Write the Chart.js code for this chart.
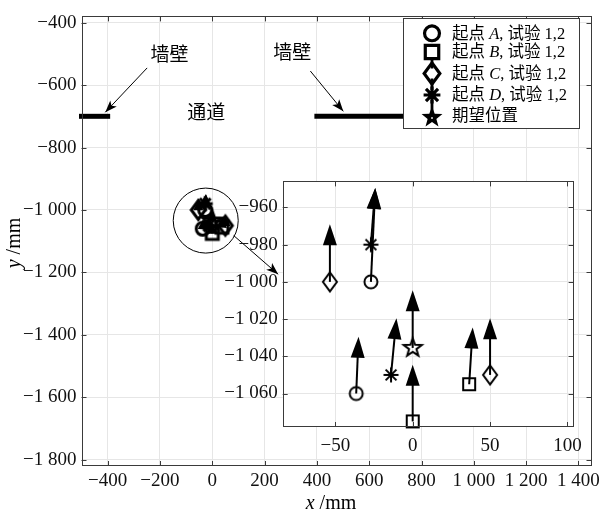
<!DOCTYPE html>
<html>
<head>
<meta charset="utf-8">
<script src="https://cdn.jsdelivr.net/npm/chart.js@4.4.1/dist/chart.umd.min.js"></script>
<style>
  body { margin: 0; background: #fff; }
  #wrap { position: relative; width: 608px; height: 517px; }
  #mainChart { position: absolute; left: 0; top: 0; }
  #insetChart { position: absolute; left: 200px; top: 165px; }
</style>
</head>
<body>
<div id="wrap">
  <canvas id="mainChart" width="608" height="517"></canvas>
  <canvas id="insetChart" width="390" height="300"></canvas>
</div>
<script>
// start points and arrow tips (mm), trials 1 and 2
const startAX = [-27, -36.5];   const startAY = [-1000, -1060];
const tipAX   = [-24.2, -35];   const tipAY   = [-949.5, -1029.5];
const startBX = [36.5, 0];      const startBY = [-1055, -1075];
const tipBX   = [38.8, 0];      const tipBY   = [-1024.5, -1044.5];
const startCX = [-53.5, 50];    const startCY = [-1000, -1050];
const tipCX   = [-53.5, 50];    const tipCY   = [-969, -1019.5];
const startDX = [-27, -14];     const startDY = [-980, -1050];
const tipDX   = [-24.2, -10.5]; const tipDY   = [-949.5, -1019.5];
const goalX   = [0];            const goalY   = [-1035.5];
const goalTipX = [0];           const goalTipY = [-1004.5];

// walls
const wallLeftX = [-500, -400];
const wallRightX = [400, 1100];
const wallY = [-700, -700];

// ticks
const mainXTicks = [-400, -200, 0, 200, 400, 600, 800, 1000, 1200, 1400];
const mainYTicks = [-1800, -1600, -1400, -1200, -1000, -800, -600, -400];
const insetXTicks = [-50, 0, 50, 100];
const insetYTicks = [-1060, -1040, -1020, -1000, -980, -960];

const legendLetters = ['A', 'B', 'C', 'D'];
const markerTypes = ['circle', 'square', 'diamond', 'asterisk', 'star'];

const SERIF = "'Liberation Serif', 'Noto Sans CJK SC', serif";
const CJK = "'Liberation Serif', 'Noto Sans CJK SC', sans-serif";

function fmt(v) {
  const s = Math.abs(v).toString();
  const g = s.length > 3 ? s.slice(0, -3) + ' ' + s.slice(-3) : s;
  return (v < 0 ? '\u2212' : '') + g;
}

function drawMarker(ctx, type, cx, cy, lw, s) {
  ctx.save();
  ctx.lineWidth = lw;
  ctx.strokeStyle = '#000';
  ctx.fillStyle = '#000';
  ctx.beginPath();
  if (type === 'circle') {
    ctx.arc(cx, cy, 6.5 * s, 0, 2 * Math.PI);
    ctx.stroke();
  } else if (type === 'square') {
    ctx.rect(cx - 6 * s, cy - 6 * s, 12 * s, 12 * s);
    ctx.stroke();
  } else if (type === 'diamond') {
    ctx.moveTo(cx, cy - 9.5 * s);
    ctx.lineTo(cx + 7 * s, cy);
    ctx.lineTo(cx, cy + 9.5 * s);
    ctx.lineTo(cx - 7 * s, cy);
    ctx.closePath();
    ctx.stroke();
  } else if (type === 'asterisk') {
    const r = 7.5 * s, d = r * 0.72;
    ctx.moveTo(cx, cy - r); ctx.lineTo(cx, cy + r);
    ctx.moveTo(cx - r, cy); ctx.lineTo(cx + r, cy);
    ctx.moveTo(cx - d, cy - d); ctx.lineTo(cx + d, cy + d);
    ctx.moveTo(cx - d, cy + d); ctx.lineTo(cx + d, cy - d);
    ctx.stroke();
  } else if (type === 'star') {
    const ro = 9.5 * s, ri = 3.9 * s;
    for (let i = 0; i < 10; i++) {
      const r = i % 2 ? ri : ro;
      const a = -Math.PI / 2 + i * Math.PI / 5;
      const px = cx + r * Math.cos(a), py = cy + r * Math.sin(a);
      i ? ctx.lineTo(px, py) : ctx.moveTo(px, py);
    }
    ctx.closePath();
    ctx.stroke();
  }
  ctx.restore();
}

function markerImage(type, lw) {
  const c = document.createElement('canvas');
  c.width = 28; c.height = 28;
  drawMarker(c.getContext('2d'), type, 14, 14, lw, 1);
  return c;
}

function pts(xs, ys) { return xs.map((x, i) => ({ x: x, y: ys[i] })); }

const markerSets = [
  [startAX, startAY], [startBX, startBY], [startCX, startCY], [startDX, startDY], [goalX, goalY]
];
const arrowSets = [
  [startAX, startAY, tipAX, tipAY], [startBX, startBY, tipBX, tipBY],
  [startCX, startCY, tipCX, tipCY], [startDX, startDY, tipDX, tipDY],
  [goalX, goalY, goalTipX, goalTipY]
];

function markerDatasets(lw) {
  return markerSets.map((m, i) => ({
    type: 'scatter',
    data: pts(m[0], m[1]),
    pointStyle: markerImage(markerTypes[i], lw),
    pointRadius: 8,
    clip: false
  }));
}

function arrowHead(ctx, x1, y1, x2, y2, len, half, notch) {
  const a = Math.atan2(y2 - y1, x2 - x1);
  const c = Math.cos(a), s = Math.sin(a);
  const bx = x2 - len * c, by = y2 - len * s;
  ctx.beginPath();
  ctx.moveTo(x2, y2);
  ctx.lineTo(bx - half * s, by + half * c);
  ctx.lineTo(bx + notch * c, by + notch * s);
  ctx.lineTo(bx + half * s, by - half * c);
  ctx.closePath();
  ctx.fill();
}

const quiver = {
  id: 'quiver',
  afterDatasetsDraw(chart, args, opts) {
    const { ctx, scales: { x, y } } = chart;
    ctx.save();
    ctx.strokeStyle = '#000';
    ctx.fillStyle = '#000';
    ctx.lineWidth = opts.lw;
    arrowSets.forEach(set => {
      set[0].forEach((_, i) => {
        const x1 = x.getPixelForValue(set[0][i]), y1 = y.getPixelForValue(set[1][i]);
        const x2 = x.getPixelForValue(set[2][i]), y2 = y.getPixelForValue(set[3][i]);
        const a = Math.atan2(y2 - y1, x2 - x1);
        ctx.beginPath();
        ctx.moveTo(x1, y1);
        ctx.lineTo(x2 - opts.len * 0.8 * Math.cos(a), y2 - opts.len * 0.8 * Math.sin(a));
        ctx.stroke();
        arrowHead(ctx, x1, y1, x2, y2, opts.len, opts.half, 0);
      });
    });
    ctx.restore();
  }
};

const frame = {
  id: 'frame',
  beforeDraw(chart, args, opts) {
    if (!opts.fill) return;
    const a = chart.chartArea;
    chart.ctx.save();
    chart.ctx.fillStyle = '#fff';
    chart.ctx.fillRect(a.left, a.top, a.width, a.height);
    chart.ctx.restore();
  },
  afterDraw(chart, args, opts) {
    const { ctx, chartArea: a, scales: { x, y } } = chart;
    ctx.save();
    ctx.strokeStyle = '#3a3a3a';
    ctx.lineWidth = 1;
    ctx.strokeRect(Math.round(a.left) + 0.5, Math.round(a.top) + 0.5,
      Math.round(a.width) - 1, Math.round(a.height) - 1);
    ctx.beginPath();
    const t = opts.tick;
    x.ticks.forEach(tk => {
      const px = Math.round(x.getPixelForValue(tk.value)) + 0.5;
      ctx.moveTo(px, a.bottom); ctx.lineTo(px, a.bottom - t);
      ctx.moveTo(px, a.top); ctx.lineTo(px, a.top + t);
    });
    y.ticks.forEach(tk => {
      const py = Math.round(y.getPixelForValue(tk.value)) + 0.5;
      ctx.moveTo(a.left, py); ctx.lineTo(a.left + t, py);
      ctx.moveTo(a.right, py); ctx.lineTo(a.right - t, py);
    });
    ctx.stroke();
    ctx.restore();
  }
};

function drawRich(ctx, parts, x, y, size) {
  let cx = x;
  parts.forEach(p => {
    ctx.font = (p[1] ? 'italic ' : '') + size + 'px ' + SERIF;
    ctx.fillText(p[0], cx, y);
    cx += ctx.measureText(p[0]).width;
  });
  return cx - x;
}

function richWidth(ctx, parts, size) {
  let w = 0;
  parts.forEach(p => {
    ctx.font = (p[1] ? 'italic ' : '') + size + 'px ' + SERIF;
    w += ctx.measureText(p[0]).width;
  });
  return w;
}

const decorations = {
  id: 'decorations',
  afterDraw(chart) {
    const { ctx, scales: { x, y } } = chart;
    ctx.save();
    ctx.fillStyle = '#000';
    ctx.strokeStyle = '#000';
    ctx.textBaseline = 'middle';

    // labels in the plot
    ctx.font = '19px ' + CJK;
    ctx.textAlign = 'center';
    ctx.fillText('墙壁', x.getPixelForValue(-164), y.getPixelForValue(-508));
    ctx.fillText('墙壁', x.getPixelForValue(306), y.getPixelForValue(-502));
    ctx.fillText('通道', x.getPixelForValue(-23), y.getPixelForValue(-693));

    // annotation arrows
    ctx.lineWidth = 1;
    const ann = [[-249, -545, -409, -687], [375, -555, 501, -684], [82, -1082, 252, -1206]];
    ann.forEach(a => {
      const x1 = x.getPixelForValue(a[0]), y1 = y.getPixelForValue(a[1]);
      const x2 = x.getPixelForValue(a[2]), y2 = y.getPixelForValue(a[3]);
      ctx.beginPath(); ctx.moveTo(x1, y1); ctx.lineTo(x2, y2); ctx.stroke();
      arrowHead(ctx, x1, y1, x2, y2, 12, 4.5, 3);
    });

    // zoom circle around the cluster
    ctx.beginPath();
    ctx.arc(x.getPixelForValue(-25), y.getPixelForValue(-1034), 32.5, 0, 2 * Math.PI);
    ctx.stroke();

    // axis titles
    ctx.textAlign = 'left';
    const xt = [['x', true], [' /mm', false]];
    const yt = [['y', true], [' /mm', false]];
    const tw = richWidth(ctx, xt, 20);
    drawRich(ctx, xt, 331 - tw / 2, 504, 20);
    ctx.save();
    ctx.translate(15, 243);
    ctx.rotate(-Math.PI / 2);
    drawRich(ctx, yt, -tw / 2, 0, 20);
    ctx.restore();

    // legend
    const L = 403.5, T = 18.5, R = 579.5, B = 128.5;
    ctx.fillStyle = '#fff';
    ctx.fillRect(L, T, R - L, B - T);
    ctx.strokeStyle = '#3a3a3a';
    ctx.lineWidth = 1;
    ctx.strokeRect(L, T, R - L, B - T);
    const rows = [33.3, 52, 73.5, 95, 116];
    const mx = 432;
    ctx.strokeStyle = '#000';
    ctx.lineWidth = 2.8;
    ctx.beginPath(); ctx.moveTo(mx, rows[1]); ctx.lineTo(mx, rows[4]); ctx.stroke();
    markerTypes.forEach((t, i) => {
      if (t === 'star') {
        ctx.save();
        ctx.fillStyle = '#000';
        ctx.beginPath();
        for (let k = 0; k < 10; k++) {
          const r = k % 2 ? 4.6 : 11;
          const a = -Math.PI / 2 + k * Math.PI / 5;
          const px = mx + r * Math.cos(a), py = rows[i] + 1.5 + r * Math.sin(a);
          k ? ctx.lineTo(px, py) : ctx.moveTo(px, py);
        }
        ctx.closePath(); ctx.fill();
        ctx.fillStyle = '#fff';
        ctx.fillRect(mx - 0.8, rows[i] + 1.2, 1.6, 1.6);
        ctx.restore();
      } else {
        if (t !== 'circle') {
          ctx.save(); ctx.fillStyle = '#fff';
          ctx.fillRect(mx - 5, rows[i] - 5, 10, 10);
          ctx.restore();
        }
        drawMarker(ctx, t, mx, rows[i], 3.2, t === 'circle' ? 1.15 : 1.12);
      }
    });
    ctx.fillStyle = '#000';
    ctx.textAlign = 'left';
    legendLetters.forEach((l, i) => {
      drawRich(ctx, [['起点 ', false], [l, true], [', 试验 1,2', false]], 452, rows[i] + 1, 16.5);
    });
    drawRich(ctx, [['期望位置', false]], 452, rows[4] + 1, 16.5);
    ctx.restore();
  }
};

function scaleOpts(min, max, tickArr, fitFn, pad) {
  return {
    type: 'linear',
    min: min, max: max,
    afterBuildTicks: s => { s.ticks = tickArr.map(v => ({ value: v })); },
    afterFit: fitFn,
    grid: { color: '#e6e6e6', lineWidth: 1, drawTicks: false },
    border: { display: false },
    ticks: {
      callback: fmt,
      font: { family: SERIF, size: 19 },
      color: '#111',
      padding: pad,
      maxRotation: 0,
      autoSkip: false
    }
  };
}

const mainCtx = document.getElementById('mainChart').getContext('2d');
new Chart(mainCtx, {
  type: 'scatter',
  data: {
    datasets: [
      { type: 'line', data: pts(wallLeftX, wallY), borderColor: '#000', borderWidth: 5,
        borderCapStyle: 'square', pointRadius: 0, clip: false },
      { type: 'line', data: pts(wallRightX, wallY), borderColor: '#000', borderWidth: 5,
        borderCapStyle: 'square', pointRadius: 0, clip: false }
    ].concat(markerDatasets(3))
  },
  options: {
    responsive: false,
    animation: false,
    layout: { padding: { left: 0, top: 6, right: 16.5, bottom: 0 } },
    plugins: {
      legend: { display: false },
      tooltip: { enabled: false },
      quiver: { lw: 2.5, len: 10, half: 5 },
      frame: { tick: 5, fill: false }
    },
    scales: {
      x: scaleOpts(-500, 1450, mainXTicks, s => { s.height = 51; }, 4),
      y: scaleOpts(-1820, -380, mainYTicks, s => { s.width = 81.5; }, 5)
    }
  },
  plugins: [frame, quiver, decorations]
});

const insetCtx = document.getElementById('insetChart').getContext('2d');
new Chart(insetCtx, {
  type: 'scatter',
  data: { datasets: markerDatasets(2) },
  options: {
    responsive: false,
    animation: false,
    layout: { padding: { left: 0, top: 10, right: 14.7, bottom: 0 } },
    plugins: {
      legend: { display: false },
      tooltip: { enabled: false },
      quiver: { lw: 2, len: 21, half: 7 },
      frame: { tick: 5, fill: true }
    },
    scales: {
      x: scaleOpts(-84, 104, insetXTicks, s => { s.height = 38; }, 8),
      y: scaleOpts(-1078, -946, insetYTicks, s => { s.width = 82.7; }, 5)
    }
  },
  plugins: [frame, quiver]
});
</script>
</body>
</html>
